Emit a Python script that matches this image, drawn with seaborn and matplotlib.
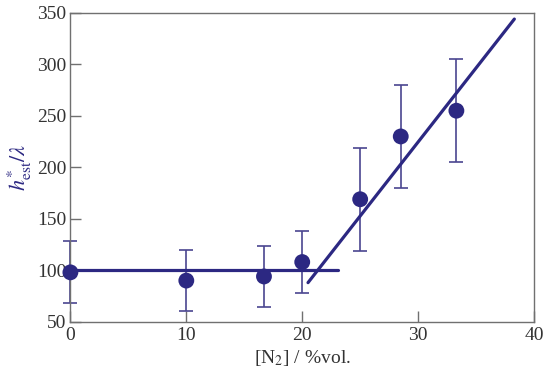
import matplotlib
matplotlib.use('Agg')
import matplotlib.pyplot as plt
import seaborn as sns
import pandas as pd

# measured points
n2_conc = [0, 10, 16.7, 20, 25, 28.5, 33.3]
h_est = [98, 90, 94, 108, 169, 230, 255]
h_err = [30, 30, 30, 30, 50, 50, 50]

# fitted lines
flat_x = [0, 23.1]
flat_y = [100, 100]
slope_x = [20.5, 38.3]
slope_y = [88, 344]

navy = '#2c2882'
bar_col = '#4a4590'
grey = '#707070'

sns.set_style('white')
plt.rcParams['font.family'] = ['Liberation Serif', 'DejaVu Serif']
plt.rcParams['mathtext.fontset'] = 'stix'

df = pd.DataFrame({'x': n2_conc, 'y': h_est, 'err': h_err})

fig, ax = plt.subplots(figsize=(5.5, 3.79), dpi=100)

eb = ax.errorbar(df['x'], df['y'], yerr=df['err'], fmt='none', ecolor=bar_col,
                 elinewidth=1.2, capsize=5, capthick=1.2, zorder=2)
for art in eb.lines[1] + eb.lines[2]:
    art.set_clip_on(False)
sns.lineplot(x=flat_x, y=flat_y, ax=ax, color=navy, linewidth=2.3, zorder=3)
sns.lineplot(x=slope_x, y=slope_y, ax=ax, color=navy, linewidth=2.3, zorder=3)
sns.scatterplot(data=df, x='x', y='y', ax=ax, color=navy, s=130,
                edgecolor='none', zorder=4, clip_on=False)

ax.set_xlim(0, 40)
ax.set_ylim(50, 350)
ax.set_xticks([0, 10, 20, 30, 40])
ax.set_yticks(range(50, 351, 50))
ax.tick_params(direction='in', length=8, width=1, color=grey,
               labelsize=14, labelcolor='#333333', pad=3,
               bottom=True, left=True, top=False, right=False)
ax.tick_params(axis='x', pad=4)
for s in ax.spines.values():
    s.set_color(grey)
    s.set_linewidth(1.0)

ax.set_xlabel('[N$_2$] / %vol.', fontsize=14, color='#333333', labelpad=3)
ax.set_ylabel(r'$h^{*}_{\mathrm{est}}/\lambda$', fontsize=16, color=navy, labelpad=2)

fig.subplots_adjust(left=0.128, right=0.971, top=0.966, bottom=0.151)
fig.savefig('out.png', dpi=100)
